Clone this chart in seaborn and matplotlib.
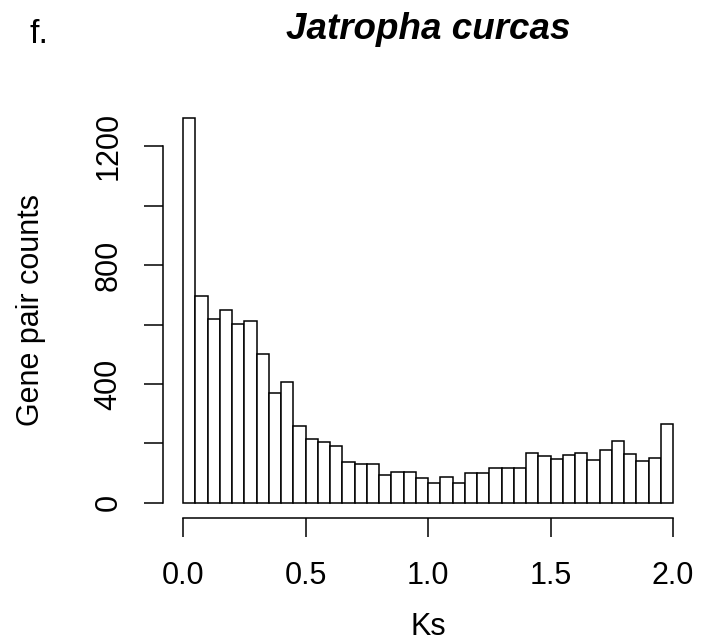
import numpy as np
import matplotlib
matplotlib.use("Agg")
import matplotlib.pyplot as plt
import seaborn as sns

# Ks histogram: 40 bins of width 0.05 over [0, 2]
bin_left = [round(0.05 * i, 2) for i in range(40)]
counts = [1297, 695, 619, 650, 603, 612, 500, 369, 405, 259,
          215, 204, 192, 136, 132, 132, 94, 105, 105, 82,
          67, 88, 68, 99, 99, 116, 116, 117, 169, 158,
          148, 162, 166, 145, 176, 209, 164, 140, 149, 265]
x_ticks = [0.0, 0.5, 1.0, 1.5, 2.0]
x_tick_labels = ["0.0", "0.5", "1.0", "1.5", "2.0"]
y_ticks = [0, 200, 400, 600, 800, 1000, 1200]
y_tick_labels = ["0", "", "400", "", "800", "", "1200"]

sns.set_style("ticks")
plt.rcParams["font.family"] = ["Liberation Sans", "DejaVu Sans"]
plt.rcParams.update({
    "text.color": "black",
    "axes.labelcolor": "black",
    "xtick.color": "black",
    "ytick.color": "black",
    "axes.edgecolor": "black",
})

W, H = 712, 643
fig = plt.figure(figsize=(W / 100, H / 100), dpi=100)
left, right, top, bottom = 163.4, 692.6, 102.2, 518.1
ax = fig.add_axes([left / W, 1 - bottom / H, (right - left) / W, (bottom - top) / H])

mids = [b + 0.025 for b in bin_left]
sns.histplot(x=mids, weights=counts, bins=40, binrange=(0, 2),
             color="white", edgecolor="black", linewidth=1.1,
             alpha=1, ax=ax)

ymax = max(counts)
ax.set_xlim(-0.08, 2.08)
ax.set_ylim(-0.04 * ymax, 1.04 * ymax)

for s in ("top", "right"):
    ax.spines[s].set_visible(False)
ax.spines["left"].set_bounds(0, 1200)
ax.spines["bottom"].set_bounds(0, 2)
for s in ("left", "bottom"):
    ax.spines[s].set_linewidth(1.1)
    ax.spines[s].set_color("black")

fs = 22
ax.set_xticks(x_ticks)
ax.set_xticklabels(x_tick_labels, fontsize=fs)
ax.set_yticks(y_ticks)
ax.set_yticklabels(y_tick_labels, fontsize=fs, rotation=90, va="center")
ax.tick_params(axis="both", direction="out", length=13.7, width=1.1, color="black")
ax.tick_params(axis="x", pad=17)
ax.tick_params(axis="y", pad=15)

ax.set_xlabel("Ks", fontsize=fs)
ax.xaxis.set_label_coords(0.5, -0.225)
ax.set_ylabel("Gene pair counts", fontsize=fs)
ax.yaxis.set_label_coords(-0.222, 0.5)

fig.text(428 / W, 1 - 39 / H, "Jatropha curcas", fontsize=26.5,
         fontweight="bold", fontstyle="italic", ha="center", va="baseline")
fig.text(29 / W, 1 - 43 / H, "f.", fontsize=24.5, ha="left", va="baseline")

fig.savefig("out.png", dpi=100, facecolor="white")
